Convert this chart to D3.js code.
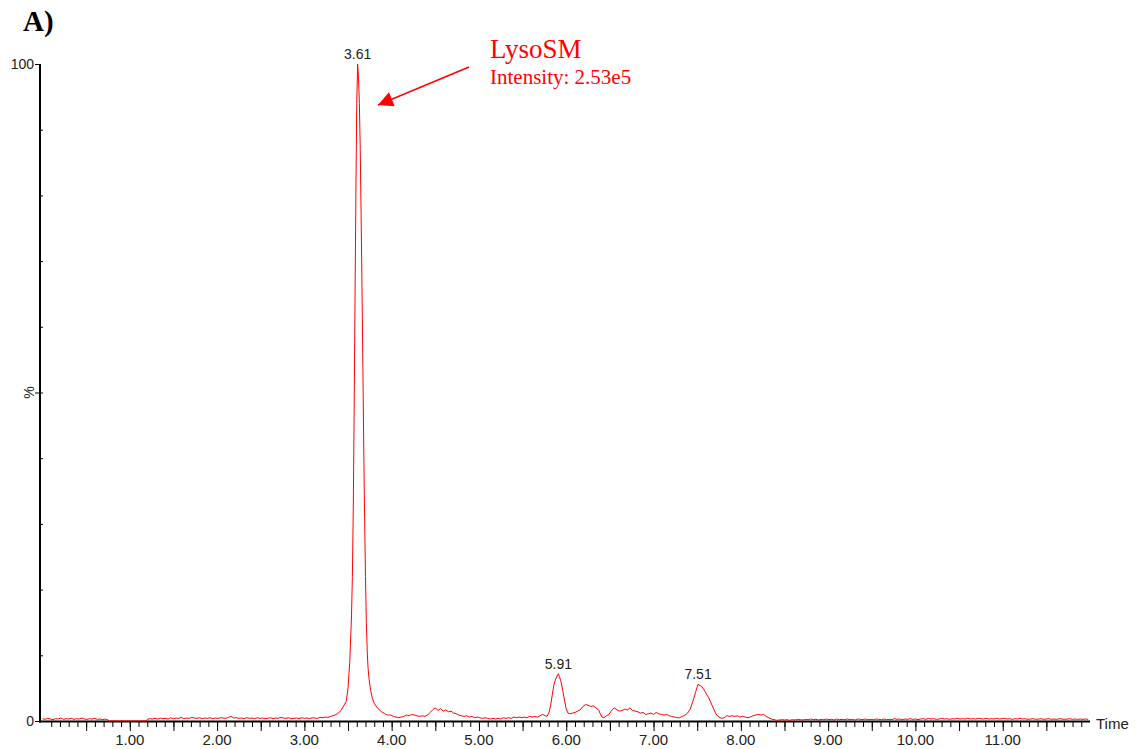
<!DOCTYPE html>
<html>
<head>
<meta charset="utf-8">
<script src="https://cdn.jsdelivr.net/npm/d3@7"></script>
<style>
  html, body { margin: 0; padding: 0; background: #fff; }
  svg { display: block; }
  .sans { font-family: "Liberation Sans", Arial, sans-serif; }
  .serif { font-family: "Liberation Serif", "Times New Roman", serif; }
</style>
</head>
<body>
<svg id="chart" width="1136" height="749"></svg>
<script>
// Chromatogram trace, [time (min), relative intensity (%)], split by region
const traceEarly = [
  [0.00,0.35],[0.03,0.25],[0.06,0.40],[0.09,0.30],[0.12,0.20],[0.15,0.35],[0.18,0.30],[0.21,0.45],
  [0.24,0.25],[0.27,0.35],[0.30,0.30],[0.33,0.40],[0.36,0.25],[0.39,0.35],[0.42,0.30],[0.45,0.45],
  [0.48,0.30],[0.51,0.25],[0.54,0.35],[0.57,0.30],[0.60,0.40],[0.63,0.25],[0.66,0.30],[0.69,0.20],
  [0.72,0.30],[0.75,0.15],[0.77,0.00],[1.19,0.00],
  [1.20,0.25],[1.23,0.35],[1.26,0.30],[1.29,0.40],[1.32,0.30],[1.35,0.45],[1.38,0.35],[1.41,0.40],
  [1.44,0.30],[1.47,0.50],[1.50,0.35],[1.53,0.45],[1.56,0.40],[1.59,0.55],[1.62,0.35],[1.65,0.45],
  [1.68,0.40],[1.71,0.55],[1.74,0.45],[1.77,0.40],[1.80,0.50],[1.83,0.35],[1.86,0.45],[1.89,0.40],
  [1.92,0.50],[1.95,0.35],[1.98,0.45],[2.01,0.40],[2.04,0.50],[2.07,0.45],[2.10,0.40],[2.13,0.55],
  [2.16,0.70],[2.19,0.45],[2.22,0.50],[2.25,0.40],[2.28,0.45],[2.31,0.35],[2.34,0.50],[2.37,0.40],
  [2.40,0.45],[2.43,0.35],[2.46,0.50],[2.49,0.40],[2.52,0.45],[2.55,0.35],[2.58,0.40],[2.61,0.50],
  [2.64,0.35],[2.67,0.45],[2.70,0.40],[2.73,0.55],[2.76,0.45],[2.79,0.40],[2.82,0.50],[2.85,0.35],
  [2.88,0.40],[2.91,0.45],[2.94,0.35],[2.97,0.50],[3.00,0.40],[3.03,0.45],[3.06,0.35],[3.09,0.50],
  [3.12,0.45],[3.15,0.40],[3.18,0.55],[3.21,0.50],[3.24,0.60],[3.27,0.55]
];

const traceLysoPeak = [
  [3.30,0.70],[3.34,0.85],[3.38,1.10],[3.42,1.60],[3.45,2.30],[3.48,3.00],[3.50,5.0],[3.52,9.0],
  [3.54,16.0],[3.55,22.0],[3.56,32.0],[3.57,47.0],[3.58,64.0],[3.59,80.0],[3.60,94.0],[3.61,100.0],
  [3.62,98.0],[3.63,94.0],[3.64,87.0],[3.65,77.0],[3.66,66.0],[3.67,54.0],[3.68,42.0],[3.69,31.0],
  [3.70,22.0],[3.71,15.0],[3.72,10.5],[3.73,8.0],[3.74,6.5],[3.76,4.6],[3.78,3.4],[3.80,2.7],
  [3.83,2.1],[3.86,1.7],[3.88,1.4]
];

const traceMid = [
  [3.90,1.3],[3.93,1.0],[3.96,0.9],[3.99,0.9],[4.02,0.7],[4.05,0.6],[4.08,0.5],[4.11,0.6],
  [4.14,0.7],[4.17,0.9],[4.20,0.8],[4.23,1.0],[4.26,0.9],[4.29,0.8],[4.32,0.7],[4.35,0.8],
  [4.38,0.7],[4.41,0.9],[4.44,1.3],[4.47,1.7],[4.50,2.0],[4.53,1.6],[4.56,1.9],[4.59,1.5],
  [4.62,1.7],[4.65,1.4],[4.68,1.5],[4.71,1.2],[4.74,1.1],[4.77,0.9],[4.80,0.8],[4.83,0.7],
  [4.86,0.8],[4.89,0.6],[4.92,0.7],[4.95,0.5],[4.98,0.6],[5.01,0.5],[5.04,0.4],[5.07,0.5],
  [5.10,0.4],[5.13,0.3],[5.16,0.4],[5.19,0.3],[5.22,0.4],[5.25,0.3],[5.28,0.5],[5.31,0.4],
  [5.34,0.5],[5.37,0.4],[5.40,0.6],[5.43,0.5],[5.46,0.6],[5.49,0.5],[5.52,0.6],[5.55,0.5],
  [5.58,0.7],[5.61,0.6],[5.64,0.7],[5.67,0.6],[5.70,0.8],[5.73,1.0],[5.76,0.8],[5.78,0.7],
  [5.80,1.2],[5.82,2.3],[5.84,4.0],[5.86,5.6],[5.88,6.4],[5.90,7.0],[5.91,7.2],[5.92,6.8],
  [5.94,6.0],[5.96,4.6],[5.98,3.2],[6.00,1.8],[6.02,1.2],[6.04,1.1],[6.07,1.2],[6.10,1.3],
  [6.13,1.5],[6.16,1.7],[6.19,2.2],[6.22,2.5],[6.25,2.4],[6.28,2.2],[6.31,2.3],[6.34,2.0],
  [6.37,1.7],[6.39,1.1],[6.41,0.6],[6.43,0.5],[6.46,0.8],[6.49,1.0],[6.52,1.6],[6.55,2.0],
  [6.58,1.7],[6.61,1.5],[6.64,1.6],[6.67,1.8],[6.70,1.7],[6.73,2.0],[6.76,1.6],[6.79,1.5],
  [6.82,1.4],[6.85,1.2],[6.88,1.3],[6.91,1.0],[6.94,1.1],[6.97,1.2],[7.00,1.0],[7.03,1.3],
  [7.06,1.1],[7.09,1.0],[7.12,0.9],[7.15,1.0],[7.18,0.8],[7.21,0.7],[7.24,0.6],[7.27,0.5],
  [7.30,0.5],[7.33,0.7],[7.36,0.9],[7.39,1.2],[7.42,1.8],[7.44,2.6],[7.46,3.4],[7.48,4.3],
  [7.50,5.2],[7.51,5.6],[7.53,5.4],[7.55,5.3],[7.57,4.9],[7.59,4.5],[7.61,4.0],[7.63,3.6],
  [7.65,3.0],[7.67,2.4],[7.69,1.8],[7.71,1.2],[7.73,0.8],[7.75,0.6],[7.78,0.4],[7.81,0.5],
  [7.84,0.8],[7.87,0.7],[7.90,0.8],[7.93,0.7],[7.96,0.8],[7.99,0.6],[8.02,0.7],[8.05,0.6],
  [8.08,0.5],[8.11,0.6],[8.14,0.8],[8.17,0.9],[8.20,1.0],[8.23,0.9],[8.26,1.0],[8.29,0.7],
  [8.32,0.5],[8.35,0.3],[8.38,0.2]
];

const traceLate = [
  [8.41,0.10],[8.44,0.15],[8.47,0.20],[8.50,0.15],[8.53,0.20],[8.56,0.10],[8.59,0.20],[8.62,0.15],
  [8.65,0.25],[8.68,0.20],[8.71,0.15],[8.74,0.25],[8.77,0.20],[8.80,0.30],[8.83,0.20],[8.86,0.25],
  [8.89,0.15],[8.92,0.25],[8.95,0.20],[8.98,0.30],[9.01,0.20],[9.04,0.25],[9.07,0.15],[9.10,0.30],
  [9.13,0.20],[9.16,0.25],[9.19,0.20],[9.22,0.30],[9.25,0.20],[9.28,0.25],[9.31,0.15],[9.34,0.30],
  [9.37,0.25],[9.40,0.20],[9.43,0.30],[9.46,0.20],[9.49,0.25],[9.52,0.20],[9.55,0.30],[9.58,0.25],
  [9.61,0.20],[9.64,0.30],[9.67,0.20],[9.70,0.25],[9.73,0.20],[9.76,0.35],[9.79,0.25],[9.82,0.30],
  [9.85,0.20],[9.88,0.30],[9.91,0.25],[9.94,0.35],[9.97,0.25],[10.00,0.30],[10.03,0.20],[10.06,0.30],
  [10.09,0.35],[10.12,0.25],[10.15,0.40],[10.18,0.30],[10.21,0.35],[10.24,0.25],[10.27,0.30],[10.30,0.40],
  [10.33,0.30],[10.36,0.35],[10.39,0.25],[10.42,0.35],[10.45,0.30],[10.48,0.40],[10.51,0.30],[10.54,0.35],
  [10.57,0.30],[10.60,0.40],[10.63,0.30],[10.66,0.35],[10.69,0.30],[10.72,0.40],[10.75,0.35],[10.78,0.30],
  [10.81,0.40],[10.84,0.30],[10.87,0.35],[10.90,0.30],[10.93,0.40],[10.96,0.30],[10.99,0.35],[11.02,0.40],
  [11.05,0.30],[11.08,0.35],[11.11,0.25],[11.14,0.35],[11.17,0.30],[11.20,0.40],[11.23,0.30],[11.26,0.35],
  [11.29,0.25],[11.32,0.30],[11.35,0.35],[11.38,0.25],[11.41,0.30],[11.44,0.35],[11.47,0.25],[11.50,0.30],
  [11.53,0.35],[11.56,0.25],[11.59,0.30],[11.62,0.25],[11.65,0.35],[11.68,0.30],[11.71,0.25],[11.74,0.30],
  [11.77,0.35],[11.80,0.25],[11.83,0.30],[11.86,0.25],[11.89,0.30],[11.92,0.25],[11.95,0.30],[11.98,0.25]
];

// Labelled peak apexes (retention time, min)
const peakTimes = [3.61, 5.91, 7.51];

// Axis ticks
const xTickValues = [1, 2, 3, 4, 5, 6, 7, 8, 9, 10, 11];
const xTickLabels = ["1.00", "2.00", "3.00", "4.00", "5.00", "6.00", "7.00", "8.00", "9.00", "10.00", "11.00"];
const yTickValues = [0, 100];
const yTickLabels = ["0", "100"];

// Annotation text
const compoundName = "LysoSM";
const intensityText = "Intensity: 2.53e5";

const trace = traceEarly.concat(traceLysoPeak, traceMid, traceLate);

const svg = d3.select("#chart");
const x = d3.scaleLinear().domain([0, 12]).range([42.5, 1090]);
const y = d3.scaleLinear().domain([0, 100]).range([721, 64]);

// Panel letter
svg.append("text").attr("class", "serif")
  .attr("x", 23).attr("y", 31)
  .attr("font-size", 29).attr("font-weight", "bold")
  .text("A)");

// X axis: minor ticks every 0.1, longer ticks every 0.5
const minorX = d3.range(1, 120).map(i => i / 10);
const halfX = d3.range(1, 24).map(i => i / 2);
const gx = svg.append("g").attr("transform", `translate(0,${y(0) + 1})`);
gx.call(d3.axisBottom(x).tickValues(minorX).tickSize(5).tickFormat(""));
gx.call(g => g.append("g").call(d3.axisBottom(x).tickValues(halfX).tickSize(9).tickFormat("")));
gx.selectAll(".domain").remove();
gx.selectAll("line").attr("stroke", "#000").attr("stroke-width", 1);

svg.append("g").selectAll("text").data(xTickValues).join("text")
  .attr("class", "sans")
  .attr("x", d => x(d)).attr("y", 745)
  .attr("text-anchor", "middle").attr("font-size", 15).attr("fill", "#222")
  .text((d, i) => xTickLabels[i]);

svg.append("text").attr("class", "sans")
  .attr("x", 1096).attr("y", 729)
  .attr("font-size", 15).attr("fill", "#222")
  .text("Time");

// Y axis: inner minor ticks every 10 %, outer ticks at 0, 50, 100
const minorY = d3.range(1, 10).map(i => i * 10);
const gy = svg.append("g").attr("transform", `translate(40,0)`);
gy.call(d3.axisRight(y).tickValues(minorY).tickSize(3).tickFormat(""));
gy.call(g => g.append("g").call(d3.axisLeft(y).tickValues([0, 50, 100]).tickSize(5).tickFormat("")));
gy.selectAll(".domain").remove();
gy.selectAll("line").attr("stroke", "#000").attr("stroke-width", 1);

svg.append("g").selectAll("text").data(yTickValues).join("text")
  .attr("class", "sans")
  .attr("x", 34).attr("y", d => y(d) + 5)
  .attr("text-anchor", "end").attr("font-size", 14).attr("fill", "#222")
  .text((d, i) => yTickLabels[i]);

svg.append("text").attr("class", "sans")
  .attr("transform", `translate(34,${y(50)}) rotate(-90)`)
  .attr("text-anchor", "middle").attr("font-size", 14).attr("fill", "#222")
  .text("%");

// Axis lines
svg.append("line").attr("x1", 40).attr("x2", 40).attr("y1", y(100)).attr("y2", y(0) + 1.5)
  .attr("stroke", "#000").attr("stroke-width", 2);
svg.append("line").attr("x1", 39).attr("x2", x(12)).attr("y1", y(0) + 0.5).attr("y2", y(0) + 0.5)
  .attr("stroke", "#000").attr("stroke-width", 2);

// Trace
const line = d3.line().x(d => x(d[0])).y(d => y(d[1]));
svg.append("path").datum(trace)
  .attr("fill", "none").attr("stroke", "#ff0000").attr("stroke-width", 1)
  .attr("stroke-linejoin", "miter")
  .attr("d", line);

// Apex labels
const apexes = peakTimes.map(t => trace.reduce((a, b) => Math.abs(b[0] - t) < Math.abs(a[0] - t) ? b : a));
svg.append("g").selectAll("text").data(apexes).join("text")
  .attr("class", "sans")
  .attr("x", d => x(d[0])).attr("y", d => y(d[1]) - 5)
  .attr("text-anchor", "middle").attr("font-size", 14).attr("fill", "#222")
  .text(d => d[0].toFixed(2));

// Compound annotation with arrow
svg.append("defs").append("marker")
  .attr("id", "arrowhead").attr("viewBox", "0 0 10 10")
  .attr("refX", 10).attr("refY", 5)
  .attr("markerWidth", 20).attr("markerHeight", 15)
  .attr("markerUnits", "userSpaceOnUse")
  .attr("orient", "auto")
  .append("path").attr("d", "M0,0 L10,5 L0,10 Z").attr("fill", "#ff0000");

svg.append("line")
  .attr("x1", 469).attr("y1", 67).attr("x2", 378).attr("y2", 105)
  .attr("stroke", "#ff0000").attr("stroke-width", 1.5)
  .attr("marker-end", "url(#arrowhead)");

svg.append("text").attr("class", "serif")
  .attr("x", 490).attr("y", 58).attr("font-size", 27).attr("fill", "#ff0000")
  .text(compoundName);
svg.append("text").attr("class", "serif")
  .attr("x", 490).attr("y", 84).attr("font-size", 21).attr("fill", "#ff0000")
  .text(intensityText);
</script>
</body>
</html>
